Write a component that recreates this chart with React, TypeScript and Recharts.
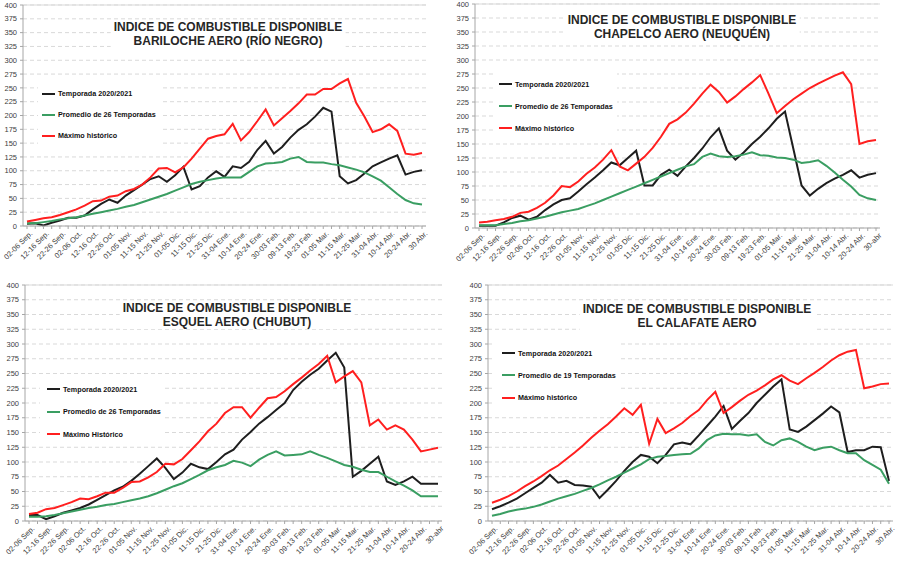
import { CartesianGrid, Legend, Line, LineChart, ReferenceLine, XAxis, YAxis } from "recharts";

const FONT = '"Liberation Sans", Arial, sans-serif';

// periodos de 5 días, septiembre a abril
const PERIODS = [
  "02-06 Sep.", "07-11 Sep.", "12-16 Sep.", "17-21 Sep.", "22-26 Sep.", "27-01 Oct.", "02-06 Oct.",
  "07-11 Oct.", "12-16 Oct.", "17-21 Oct.", "22-26 Oct.", "27-31 Oct.", "01-05 Nov.", "06-10 Nov.",
  "11-15 Nov.", "16-20 Nov.", "21-25 Nov.", "26-30 Nov.", "01-05 Dic.", "06-10 Dic.", "11-15 Dic.",
  "16-20 Dic.", "21-25 Dic.", "26-30 Dic.", "31-04 Ene.", "05-09 Ene.", "10-14 Ene.", "15-19 Ene.",
  "20-24 Ene.", "25-29 Ene.", "30-03 Feb.", "04-08 Feb.", "09-13 Feb.", "14-18 Feb.", "19-23 Feb.",
  "24-28 Feb.", "01-05 Mar.", "06-10 Mar.", "11-15 Mar.", "16-20 Mar.", "21-25 Mar.", "26-30 Mar.",
  "31-04 Abr.", "05-09 Abr.", "10-14 Abr.", "15-19 Abr.", "20-24 Abr.", "25-29 Abr.", "30 Abr.",
];

const Y_TICKS = [0, 25, 50, 75, 100, 125, 150, 175, 200, 225, 250, 275, 300, 325, 350, 375, 400];

// Bariloche Aero
const BARILOCHE_TEMPORADA = [4, 5, 1, 6, 10, 15, 15, 19, 30, 40, 48, 42, 55, 65, 75, 85, 90, 80, 92, 107, 66, 72, 88, 99, 89, 108, 105, 116, 138, 154, 131, 143, 160, 174, 184, 198, 214, 207, 90, 77, 83, 95, 108, 115, 122, 128, 93, 98, 101];
const BARILOCHE_PROMEDIO = [5, 5, 7, 9, 12, 14, 16, 19, 22, 25, 28, 31, 35, 38, 43, 48, 53, 58, 64, 70, 76, 80, 83, 86, 88, 88, 88, 98, 108, 113, 114, 116, 122, 125, 116, 115, 115, 112, 110, 106, 102, 97, 90, 82, 70, 58, 47, 41, 39];
const BARILOCHE_MAXIMO = [8, 11, 14, 16, 20, 25, 30, 37, 45, 46, 53, 55, 63, 67, 75, 88, 104, 105, 97, 106, 122, 140, 158, 163, 166, 185, 155, 170, 190, 211, 182, 195, 208, 222, 238, 238, 248, 248, 258, 266, 223, 198, 170, 175, 184, 172, 131, 129, 132];

// Chapelco Aero
const CHAPELCO_TEMPORADA = [4, 4, 4, 10, 18, 22, 15, 20, 32, 42, 50, 53, 65, 78, 90, 103, 117, 112, 125, 138, 76, 76, 95, 104, 93, 110, 125, 142, 162, 178, 138, 122, 135, 150, 163, 178, 195, 208, 142, 76, 58, 70, 80, 88, 95, 103, 90, 95, 98];
const CHAPELCO_PROMEDIO = [5, 5, 5, 7, 9, 12, 14, 17, 20, 24, 28, 31, 34, 39, 44, 50, 56, 62, 68, 74, 80, 86, 92, 98, 104, 110, 114, 127, 133, 128, 127, 128, 131, 135, 130, 129, 126, 125, 122, 116, 118, 121, 111, 99, 86, 74, 59, 53, 50];
const CHAPELCO_MAXIMO = [10, 11, 14, 16, 20, 27, 29, 36, 45, 58, 75, 73, 83, 97, 108, 122, 139, 110, 103, 115, 127, 143, 163, 186, 194, 206, 222, 240, 256, 243, 224, 235, 248, 260, 273, 240, 205, 218, 230, 240, 250, 258, 265, 272, 278, 257, 150, 155, 157];

// Esquel Aero
const ESQUEL_TEMPORADA = [10, 10, 3, 8, 14, 18, 22, 28, 36, 44, 52, 58, 68, 80, 93, 106, 90, 71, 82, 97, 91, 88, 100, 113, 121, 138, 151, 165, 176, 188, 200, 222, 236, 248, 258, 272, 285, 260, 75, 85, 97, 109, 67, 61, 67, 75, 63, 63, 63];
const ESQUEL_PROMEDIO = [7, 7, 8, 10, 13, 16, 19, 22, 24, 27, 29, 32, 35, 38, 42, 47, 53, 59, 64, 71, 78, 86, 91, 95, 102, 99, 93, 104, 112, 118, 111, 112, 113, 118, 112, 107, 101, 95, 92, 87, 83, 83, 75, 67, 60, 52, 42, 42, 42];
const ESQUEL_MAXIMO = [12, 14, 20, 22, 27, 32, 38, 37, 42, 48, 48, 56, 66, 67, 74, 83, 97, 96, 105, 120, 135, 152, 165, 183, 193, 193, 175, 192, 208, 210, 220, 232, 243, 255, 266, 280, 235, 245, 254, 235, 162, 172, 155, 162, 155, 138, 118, 121, 124];

// El Calafate Aero
const CALAFATE_TEMPORADA = [20, 25, 31, 38, 47, 56, 65, 78, 65, 68, 61, 60, 58, 39, 53, 68, 85, 100, 112, 109, 98, 112, 130, 133, 130, 145, 161, 177, 195, 156, 170, 183, 200, 214, 228, 240, 155, 151, 160, 171, 182, 194, 184, 117, 120, 120, 126, 125, 68];
const CALAFATE_PROMEDIO = [9, 12, 16, 19, 21, 24, 28, 33, 38, 42, 46, 51, 56, 62, 69, 75, 82, 89, 96, 105, 109, 110, 112, 113, 114, 123, 137, 145, 148, 147, 147, 145, 147, 134, 128, 137, 140, 134, 126, 120, 124, 126, 120, 115, 115, 103, 95, 87, 63];
const CALAFATE_MAXIMO = [31, 36, 42, 50, 59, 67, 76, 86, 94, 105, 116, 128, 141, 153, 164, 177, 191, 180, 197, 131, 173, 149, 157, 166, 178, 188, 205, 219, 183, 193, 204, 214, 221, 230, 240, 247, 238, 232, 242, 251, 261, 272, 281, 287, 290, 225, 228, 232, 233];

const SERIES_ORDER = ["temporada", "promedio", "maximo"];

const BLACK = "#1e1e1e";
const GREEN = "#3a9e62";
const RED = "#ff1f1f";
const GRID = "#d9d9d9";
const AXIS = "#a6a6a6";

function XTick(props: any) {
  const { x, y, payload, lastLabel } = props;
  const i = payload.index;
  if (i % 2 !== 0) return <g />;
  const label = i === PERIODS.length - 1 ? lastLabel : payload.value;
  const ax = x + 6;
  const ay = y + 4;
  return (
    <text x={ax} y={ay} transform={`rotate(-45 ${ax} ${ay})`} textAnchor="end" fontSize={7.5} fill="#404040" fontFamily={FONT}>
      {label}
    </text>
  );
}

function legendContent(padLeft: number, rowH: number) {
  return (props: any) => {
    const items = [...props.payload].sort(
      (a: any, b: any) => SERIES_ORDER.indexOf(a.dataKey) - SERIES_ORDER.indexOf(b.dataKey)
    );
    return (
      <div style={{ background: "#fff", paddingLeft: padLeft, fontFamily: FONT }}>
        {items.map((entry: any) => (
          <div key={entry.value} style={{ height: rowH, display: "flex", alignItems: "center" }}>
            <span style={{ display: "inline-block", width: 13, height: 2, background: entry.color, marginRight: 3 }} />
            <span style={{ fontSize: 7.2, fontWeight: 700, color: "#111", whiteSpace: "nowrap" }}>{entry.value}</span>
          </div>
        ))}
      </div>
    );
  };
}

function Panel(p: any) {
  const data = PERIODS.map((periodo, i) => ({
    periodo,
    temporada: p.temporada[i],
    promedio: p.promedio[i],
    maximo: p.maximo[i],
  }));
  return (
    <div style={{ position: "absolute", left: p.left, top: p.top, width: p.width, height: p.height }}>
      <LineChart width={p.width} height={p.height} data={data} margin={p.margin}>
        <CartesianGrid vertical={false} stroke={GRID} strokeDasharray="4 3" />
        <XAxis
          dataKey="periodo"
          interval={0}
          height={p.xHeight}
          padding={{ left: 4, right: 4 }}
          tickSize={3}
          tickMargin={1}
          tickLine={{ stroke: AXIS }}
          axisLine={{ stroke: AXIS }}
          tick={<XTick lastLabel={p.lastTick} />}
        />
        <YAxis
          domain={[0, 400]}
          ticks={Y_TICKS}
          interval={0}
          width={p.yWidth}
          tickSize={3}
          tickMargin={3}
          tickLine={{ stroke: AXIS }}
          axisLine={{ stroke: AXIS }}
          tick={{ fontSize: 7.5, fill: "#404040", fontFamily: FONT }}
        />
        <YAxis yAxisId="borde" orientation="right" domain={[0, 400]} width={0} tick={false} tickLine={false} axisLine={{ stroke: GRID }} />
        <ReferenceLine y={400} stroke={GRID} />
        <Legend
          layout="horizontal"
          verticalAlign="middle"
          align="center"
          content={legendContent(p.legend.pad, p.legend.row)}
          wrapperStyle={{ left: p.legend.left, top: p.legend.top, width: p.legend.width }}
        />
        <Line dataKey="temporada" name="Temporada 2020/2021" stroke={BLACK} strokeWidth={2} dot={false} isAnimationActive={false} />
        <Line dataKey="promedio" name={p.promedioLabel} stroke={GREEN} strokeWidth={2} dot={false} isAnimationActive={false} />
        <Line dataKey="maximo" name={p.maximoLabel} stroke={RED} strokeWidth={2} dot={false} isAnimationActive={false} />
      </LineChart>
      <div
        style={{
          position: "absolute",
          left: p.titleX,
          top: p.titleTop,
          transform: "translateX(-50%)",
          background: "#fff",
          padding: "0 3px",
          fontFamily: FONT,
          fontWeight: 700,
          fontSize: 12,
          lineHeight: "14px",
          color: "#262626",
          textAlign: "center",
          whiteSpace: "nowrap",
        }}
      >
        <div>INDICE DE COMBUSTIBLE DISPONIBLE</div>
        <div>{p.subtitle}</div>
      </div>
    </div>
  );
}

export default function App() {
  return (
    <div style={{ position: "absolute", left: 0, top: 0, width: 898, height: 563, background: "#fff", overflow: "hidden" }}>
      <Panel
        left={0} top={0} width={449} height={281}
        margin={{ top: 5, right: 23, left: 0, bottom: 0 }} yWidth={23} xHeight={55}
        subtitle="BARILOCHE AERO (RÍO NEGRO)" titleX={228} titleTop={20}
        temporada={BARILOCHE_TEMPORADA} promedio={BARILOCHE_PROMEDIO} maximo={BARILOCHE_MAXIMO}
        promedioLabel="Promedio de 26 Temporadas" maximoLabel="Máximo histórico" lastTick="30 Abr."
        legend={{ left: 38, top: 83, width: 122, pad: 4, row: 21 }}
      />
      <Panel
        left={449} top={0} width={449} height={281}
        margin={{ top: 4, right: 18, left: 0, bottom: 0 }} yWidth={26} xHeight={53}
        subtitle="CHAPELCO AERO (NEUQUÉN)" titleX={233} titleTop={13}
        temporada={CHAPELCO_TEMPORADA} promedio={CHAPELCO_PROMEDIO} maximo={CHAPELCO_MAXIMO}
        promedioLabel="Promedio de 26 Temporadas" maximoLabel="Máximo histórico" lastTick="30-abr"
        legend={{ left: 44, top: 73, width: 124, pad: 6, row: 22 }}
      />
      <Panel
        left={0} top={281} width={449} height={282}
        margin={{ top: 4, right: 7, left: 0, bottom: 0 }} yWidth={25} xHeight={42}
        subtitle="ESQUEL AERO (CHUBUT)" titleX={237} titleTop={20}
        temporada={ESQUEL_TEMPORADA} promedio={ESQUEL_PROMEDIO} maximo={ESQUEL_MAXIMO}
        promedioLabel="Promedio de 26 Temporadas" maximoLabel="Máximo Histórico" lastTick="30-abr"
        legend={{ left: 40, top: 97, width: 125, pad: 7, row: 22.5 }}
      />
      <Panel
        left={449} top={281} width={449} height={282}
        margin={{ top: 4, right: 5, left: 0, bottom: 0 }} yWidth={39} xHeight={42}
        subtitle="EL CALAFATE AERO" titleX={248} titleTop={21}
        temporada={CALAFATE_TEMPORADA} promedio={CALAFATE_PROMEDIO} maximo={CALAFATE_MAXIMO}
        promedioLabel="Promedio de 19 Temporadas" maximoLabel="Máximo histórico" lastTick="30 Abr."
        legend={{ left: 46, top: 61, width: 125, pad: 7, row: 22.3 }}
      />
    </div>
  );
}
